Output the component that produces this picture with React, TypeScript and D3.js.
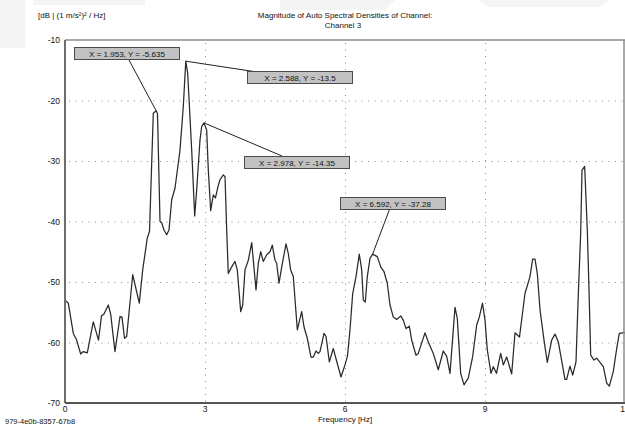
import * as React from 'react'
import * as d3 from 'd3'

const {useEffect, useRef} = React

// spectrum: frequency [Hz] / level [dB]
const freqs = [
  0, 0.071, 0.178, 0.25, 0.336, 0.392, 0.478, 0.606, 0.718, 0.782, 0.836, 0.928, 0.979, 1.071, 1.179, 1.221,
  1.275, 1.322, 1.451, 1.592, 1.665, 1.764, 1.811, 1.892, 1.953, 1.982, 2.036, 2.072, 2.121, 2.179, 2.229,
  2.286, 2.357, 2.464, 2.535, 2.588, 2.629, 2.715, 2.779, 2.822, 2.893, 2.929, 2.978, 3.036, 3.071, 3.122,
  3.178, 3.225, 3.279, 3.321, 3.392, 3.429, 3.465, 3.499, 3.572, 3.643, 3.692, 3.765, 3.808, 3.857, 3.928,
  4.001, 4.093, 4.142, 4.194, 4.249, 4.322, 4.393, 4.442, 4.5, 4.536, 4.586, 4.644, 4.736, 4.785, 4.836,
  4.892, 4.978, 5.072, 5.121, 5.192, 5.271, 5.321, 5.379, 5.428, 5.464, 5.55, 5.593, 5.664, 5.749, 5.822,
  5.914, 6.0, 6.054, 6.107, 6.165, 6.236, 6.306, 6.358, 6.392, 6.435, 6.478, 6.536, 6.592, 6.692, 6.765,
  6.836, 6.906, 6.964, 7.035, 7.108, 7.194, 7.249, 7.307, 7.378, 7.429, 7.521, 7.571, 7.714, 7.785, 7.892,
  7.999, 8.106, 8.179, 8.25, 8.357, 8.406, 8.479, 8.55, 8.642, 8.736, 8.822, 8.878, 8.946, 9.0, 9.049,
  9.128, 9.178, 9.246, 9.336, 9.392, 9.465, 9.572, 9.643, 9.739, 9.857, 9.964, 10.022, 10.071, 10.121,
  10.179, 10.264, 10.335, 10.429, 10.5, 10.571, 10.714, 10.75, 10.821, 10.879, 10.95, 11.0, 11.05, 11.079,
  11.136, 11.192, 11.235, 11.265, 11.336, 11.394, 11.535, 11.608, 11.664, 11.749, 11.822, 11.878, 11.951, 12
]
const levels = [
  -53.0, -53.5, -58.5, -59.6, -61.9, -61.5, -61.7, -56.6, -59.6, -55.6, -55.3, -53.8, -55.3, -61.5, -55.7, -55.8,
  -59.3, -59.0, -48.8, -53.5, -48.0, -42.7, -41.6, -22.1, -21.7, -22.2, -40.0, -40.2, -41.4, -42.2, -41.4,
  -36.4, -34.5, -28.2, -21.0, -13.5, -15.5, -28.2, -39.1, -34.8, -26.5, -24.3, -23.7, -24.9, -31.5, -38.2,
  -35.6, -36.1, -34.2, -33.1, -32.3, -32.6, -41.4, -48.6, -47.5, -46.6, -48.0, -54.9, -53.8, -48.0, -46.4,
  -43.5, -51.3, -46.9, -45.0, -46.6, -45.5, -45.0, -43.9, -46.4, -46.9, -50.2, -47.5, -43.7, -45.3, -48.0,
  -49.1, -57.9, -54.9, -57.4, -59.3, -62.4, -62.4, -61.4, -61.8, -61.5, -58.5, -59.0, -63.2, -61.0, -63.1,
  -65.7, -63.7, -62.2, -57.9, -51.9, -49.1, -45.4, -48.0, -53.0, -53.3, -49.1, -46.1, -45.4, -45.8, -47.5,
  -48.3, -50.2, -53.8, -55.8, -56.2, -55.6, -56.3, -57.7, -57.3, -59.6, -62.1, -61.8, -58.4, -59.9, -61.8,
  -64.5, -61.4, -62.3, -65.1, -54.2, -56.0, -65.1, -67.0, -65.9, -62.3, -57.1, -55.8, -53.5, -56.3, -61.2,
  -65.1, -64.0, -65.1, -61.8, -63.7, -62.4, -65.2, -58.4, -59.1, -51.9, -49.1, -46.2, -46.2, -48.6,
  -54.6, -59.6, -63.3, -59.6, -58.6, -59.9, -66.1, -66.1, -63.9, -65.4, -63.2, -51.9, -42.0, -31.5,
  -30.9, -41.4, -53.0, -62.1, -62.9, -62.6, -64.0, -66.7, -67.2, -64.8, -61.0, -58.5, -58.4, -58.4
]

const xTicks = [0, 3, 6, 9, 12]
const yTicks = [-10, -20, -30, -40, -50, -60, -70]

const markerFreqs = [1.953, 2.588, 2.978, 6.592]
const markerLabels = ['X = 1.953, Y = -5.635', 'X = 2.588, Y = -13.5', 'X = 2.978, Y = -14.35', 'X = 6.592, Y = -37.28']

// where each label box sits and where its leader line leaves the box
const boxes = [
  {x: 74, y: 47, lx: 129, ly: 60},
  {x: 247, y: 71, lx: 257, ly: 72},
  {x: 244, y: 156, lx: 282, ly: 156},
  {x: 340, y: 197, lx: 390, ly: 208},
]

const W = 625
const H = 426
const FONT = '"Liberation Sans", Arial, sans-serif'

export default function App() {
  const ref = useRef(null)

  useEffect(() => {
    const svg = d3.select(ref.current)
    svg.selectAll('*').remove()

    const x = d3.scaleLinear().domain([0, 12]).range([65, 625])
    const y = d3.scaleLinear().domain([-70, -10]).range([403, 40])

    svg.append('rect').attr('width', W).attr('height', H).attr('fill', '#fff')

    // faint background shapes at the top
    const bg = svg.append('g').attr('fill', '#f4f4f4')
    bg.append('rect').attr('x', 0).attr('y', 0).attr('width', 25).attr('height', 48)
    bg.append('rect').attr('x', 33).attr('y', 0).attr('width', 112).attr('height', 5)
    bg.append('polygon').attr('points', '280,0 395,0 385,10 280,10')
    bg.append('polygon').attr('points', '478,0 610,0 600,7 488,7')

    // grid
    const grid = svg.append('g').attr('stroke', '#8a8a8a').attr('stroke-width', 1).attr('stroke-dasharray', '1,5.5')
    yTicks.slice(1, -1).forEach(t => {
      grid.append('line').attr('x1', x(0) + 4).attr('x2', x(12)).attr('y1', y(t) + 0.5).attr('y2', y(t) + 0.5)
    })
    xTicks.slice(1, -1).forEach(t => {
      grid.append('line').attr('x1', x(t) + 0.5).attr('x2', x(t) + 0.5).attr('y1', y(-10) + 3).attr('y2', y(-70))
    })

    // spectrum
    const pts = freqs.map((f, i) => [f, levels[i]])
    const line = d3.line().x(d => x(d[0])).y(d => y(d[1]))
    svg.append('path')
      .attr('d', line(pts))
      .attr('fill', 'none')
      .attr('stroke', '#2a2a2a')
      .attr('stroke-width', 1.25)
      .attr('stroke-linejoin', 'round')

    // frame
    svg.append('line').attr('x1', x(0)).attr('x2', W).attr('y1', y(-10)).attr('y2', y(-10))
      .attr('stroke', '#8c8c8c').attr('stroke-width', 1.5)
    svg.append('line').attr('x1', W - 1).attr('x2', W - 1).attr('y1', y(-10)).attr('y2', y(-70))
      .attr('stroke', '#8c8c8c').attr('stroke-width', 1.5)
    svg.append('line').attr('x1', x(0)).attr('x2', x(0)).attr('y1', y(-10)).attr('y2', y(-70))
      .attr('stroke', '#6e6e6e').attr('stroke-width', 2)
    svg.append('line').attr('x1', x(0)).attr('x2', W).attr('y1', y(-70)).attr('y2', y(-70))
      .attr('stroke', '#555').attr('stroke-width', 2)

    // ticks
    const tl = svg.append('g').attr('font-family', FONT).attr('font-size', 8.5).attr('fill', '#111')
    yTicks.forEach(t => {
      tl.append('text').attr('x', 60).attr('y', y(t) + 3).attr('text-anchor', 'end').text(t)
    })
    xTicks.forEach(t => {
      tl.append('text').attr('x', x(t)).attr('y', 412).attr('text-anchor', 'middle').text(t)
    })

    // titles
    const tt = svg.append('g').attr('font-family', FONT).attr('font-size', 8).attr('fill', '#111')
    tt.append('text').attr('x', 38).attr('y', 18).text('[dB | (1 m/s²)² / Hz]')
    tt.append('text').attr('x', 345).attr('y', 18).attr('text-anchor', 'middle')
      .text('Magnitude of Auto Spectral Densities of Channel:')
    tt.append('text').attr('x', 343).attr('y', 28).attr('text-anchor', 'middle').text('Channel 3')
    tt.append('text').attr('x', 345).attr('y', 422).attr('text-anchor', 'middle').text('Frequency [Hz]')
    tt.append('text').attr('x', 5).attr('y', 424).attr('font-size', 7.5).text('979-4e0b-8357-67b8')

    // peak markers
    const mk = svg.append('g')
    markerFreqs.forEach((f, i) => {
      const j = d3.leastIndex(freqs, v => Math.abs(v - f))
      const b = boxes[i]
      mk.append('line')
        .attr('x1', b.lx).attr('y1', b.ly)
        .attr('x2', x(freqs[j])).attr('y2', y(levels[j]))
        .attr('stroke', '#222').attr('stroke-width', 1)
      mk.append('rect')
        .attr('x', b.x + 0.5).attr('y', b.y + 0.5)
        .attr('width', 105).attr('height', 12)
        .attr('fill', '#c2c2c2').attr('stroke', '#4a4a4a').attr('stroke-width', 1)
      mk.append('text')
        .attr('x', b.x + 53).attr('y', b.y + 9.5)
        .attr('text-anchor', 'middle')
        .attr('font-family', FONT).attr('font-size', 8).attr('fill', '#111')
        .text(markerLabels[i])
    })
  }, [])

  return (
    <div style={{position: 'absolute', left: 0, top: 0}}>
      <svg ref={ref} width={W} height={H} style={{display: 'block'}} />
    </div>
  )
}
